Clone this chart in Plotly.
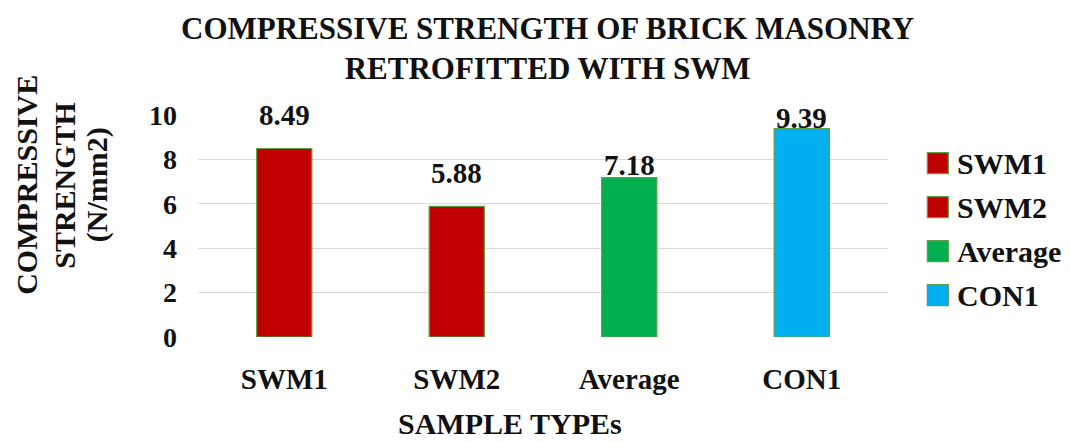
import plotly.graph_objects as go

# Compressive strength of brick masonry samples (N/mm2)
categories = ["SWM1", "SWM2", "Average", "CON1"]
strength = [8.49, 5.88, 7.18, 9.39]
colors = ["#C00000", "#C00000", "#00B050", "#00B0F0"]
label_lift = [34, 33, 13, 11]  # pixel lift of each value label above its bar
y_ticks = [0, 2, 4, 6, 8, 10]

FONT = "Liberation Serif"
INK = "#111111"
OUTLINE = "#5E9E4A"


def bold(size):
    return dict(family=FONT, size=size, color=INK, weight="bold")


fig = go.Figure()
for cat, val, col in zip(categories, strength, colors):
    fig.add_trace(go.Bar(
        x=[cat], y=[val], name=cat,
        marker=dict(color=col, line=dict(color=OUTLINE, width=1.2)),
        width=0.32, showlegend=False,
    ))

# value labels over the bars
for cat, val, lift in zip(categories, strength, label_lift):
    fig.add_annotation(
        x=cat, y=val, text=f"{val:.2f}", showarrow=False,
        yanchor="middle", yshift=lift, font=bold(29),
    )

# legend: coloured squares with labels at the right of the plot
leg_x0 = 1.057
leg_y = [0.783, 0.585, 0.387, 0.189]
sq_w = 21 / 690
sq_h = 21 / 222
for cat, col, yy in zip(categories, colors, leg_y):
    fig.add_shape(
        type="rect", xref="paper", yref="paper",
        x0=leg_x0, x1=leg_x0 + sq_w, y0=yy - sq_h / 2, y1=yy + sq_h / 2,
        fillcolor=col, line=dict(color=OUTLINE, width=1.2),
    )
    fig.add_annotation(
        xref="paper", yref="paper", x=leg_x0 + sq_w + 0.009, y=yy,
        xanchor="left", yanchor="middle", showarrow=False,
        text=cat, font=bold(30),
    )

# chart title, two lines
fig.add_annotation(
    xref="paper", yref="paper", x=0.507, y=1.30,
    xanchor="center", yanchor="middle", showarrow=False,
    text="COMPRESSIVE STRENGTH OF BRICK MASONRY<br>RETROFITTED WITH SWM",
    font=bold(31),
)

# y-axis title, three stacked lines
y_title_lines = ["COMPRESSIVE", "STRENGTH", "(N/mm2)"]
y_title_x = [-0.248, -0.193, -0.146]
for line, xx in zip(y_title_lines, y_title_x):
    fig.add_annotation(
        xref="paper", yref="paper", x=xx, y=0.685,
        xanchor="center", yanchor="middle", showarrow=False, textangle=-90,
        text=line, font=bold(30),
    )

# x-axis title
fig.add_annotation(
    xref="paper", yref="paper", x=0.452, y=-0.39,
    xanchor="center", yanchor="middle", showarrow=False,
    text="SAMPLE TYPEs", font=bold(30),
)

fig.update_layout(
    width=1070, height=443,
    margin=dict(l=198, r=182, t=115, b=106),
    paper_bgcolor="white", plot_bgcolor="white",
    barmode="overlay",
    font=dict(family=FONT, color=INK),
)

fig.update_xaxes(
    categoryorder="array", categoryarray=categories,
    showline=False, showgrid=False, ticks="",
    tickfont=bold(29),
    ticklabelstandoff=22,
)
fig.update_yaxes(
    range=[0, 10], tickvals=y_ticks,
    showgrid=True, gridcolor="#D9D9D9", gridwidth=1.2,
    zeroline=False, showline=False, ticks="",
    tickfont=bold(28),
    ticklabelstandoff=20,
)

fig.write_html("out.html")
